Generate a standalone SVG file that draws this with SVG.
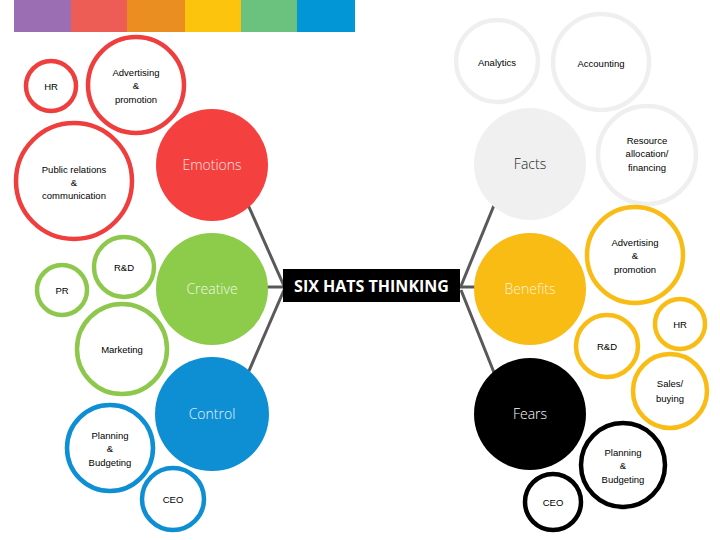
<svg xmlns="http://www.w3.org/2000/svg" width="720" height="540" viewBox="0 0 720 540">
<style>
.ring{fill:#fff;stroke-width:4.5}
.r{stroke:#EE3E3E}.g{stroke:#8DC84C}.b{stroke:#0F8FD3}.y{stroke:#F8BC15}.k{stroke:#000}.l{stroke:#EFEFEF}
.sm{font-family:"Liberation Sans",Arial,sans-serif;font-size:9.5px;fill:#000;text-anchor:middle}
.hat{font-family:"Open Sans","Liberation Sans",sans-serif;font-size:14px;text-anchor:middle;font-weight:300}
.conn line{stroke:#595959;stroke-width:3}
</style>
<rect width="720" height="540" fill="#fff"/>
<g id="colorbar">
<rect x="14" y="0" width="57" height="32" fill="#9B6DB3"/>
<rect x="71" y="0" width="56" height="32" fill="#EE5D55"/>
<rect x="127" y="0" width="58" height="32" fill="#EA8E22"/>
<rect x="185" y="0" width="56" height="32" fill="#FCC40D"/>
<rect x="241" y="0" width="56" height="32" fill="#6BC17E"/>
<rect x="297" y="0" width="58" height="32" fill="#0396D6"/>
</g>
<g id="connectors" class="conn">
<line x1="245" y1="198" x2="284" y2="286"/>
<line x1="284" y1="290" x2="245" y2="380"/>
<line x1="262" y1="287" x2="284" y2="287"/>
<line x1="497" y1="198" x2="461" y2="286"/>
<line x1="461" y1="290" x2="497" y2="380"/>
<line x1="460" y1="287" x2="480" y2="287"/>
</g>
<g id="hr-left"><circle class="ring r" cx="51" cy="86" r="25"/><text class="sm" x="51" y="90">HR</text></g>
<g id="adv-left"><circle class="ring r" cx="136" cy="85" r="48"/><text class="sm" x="136" y="76">Advertising</text><text class="sm" x="136" y="89">&amp;</text><text class="sm" x="136" y="103">promotion</text></g>
<g id="pr-comm"><circle class="ring r" cx="74" cy="181" r="58"/><text class="sm" x="74" y="173">Public relations</text><text class="sm" x="74" y="186">&amp;</text><text class="sm" x="74" y="199">communication</text></g>
<g id="emotions"><circle cx="212" cy="165" r="56" fill="#F4403F"/><text class="hat" x="212" y="170" fill="#FCE4E4">Emotions</text></g>
<g id="rd-left"><circle class="ring g" cx="124" cy="267" r="30"/><text class="sm" x="124" y="271">R&amp;D</text></g>
<g id="pr"><circle class="ring g" cx="62" cy="290" r="25"/><text class="sm" x="62" y="294">PR</text></g>
<g id="creative"><circle cx="212" cy="289" r="56" fill="#8DCB4B"/><text class="hat" x="212" y="294" fill="#F1F8E6">Creative</text></g>
<g id="marketing"><circle class="ring g" cx="122" cy="349" r="45"/><text class="sm" x="122" y="353">Marketing</text></g>
<g id="control"><circle cx="212" cy="414" r="57" fill="#0E8FD4"/><text class="hat" x="212" y="419" fill="#E4F3FC">Control</text></g>
<g id="plan-left"><circle class="ring b" cx="110" cy="448" r="43"/><text class="sm" x="110" y="439">Planning</text><text class="sm" x="110" y="452">&amp;</text><text class="sm" x="110" y="466">Budgeting</text></g>
<g id="ceo-left"><circle class="ring b" cx="173" cy="499" r="31"/><text class="sm" x="173" y="503">CEO</text></g>
<g id="center"><rect x="283" y="269" width="177" height="33" fill="#000"/><text x="371.5" y="291.5" font-family="'Open Sans','Liberation Sans',sans-serif" font-size="16" font-weight="bold" fill="#fff" text-anchor="middle">SIX HATS THINKING</text></g>
<g id="analytics"><circle class="ring l" cx="497" cy="61" r="41"/><text class="sm" x="497" y="66">Analytics</text></g>
<g id="accounting"><circle class="ring l" cx="601" cy="62" r="48"/><text class="sm" x="601" y="67">Accounting</text></g>
<g id="facts"><circle cx="530" cy="164" r="56" fill="#F0F0F0"/><text class="hat" x="530" y="169" fill="#222" font-weight="400">Facts</text></g>
<g id="resource"><circle class="ring l" cx="647" cy="155" r="49"/><text class="sm" x="647" y="144">Resource</text><text class="sm" x="647" y="157">allocation/</text><text class="sm" x="647" y="171">financing</text></g>
<g id="adv-right"><circle class="ring y" cx="635" cy="255" r="48"/><text class="sm" x="635" y="246">Advertising</text><text class="sm" x="635" y="259">&amp;</text><text class="sm" x="635" y="273">promotion</text></g>
<g id="benefits"><circle cx="530" cy="289" r="56" fill="#F8BC15"/><text class="hat" x="530" y="294" fill="#FDF3D6">Benefits</text></g>
<g id="hr-right"><circle class="ring y" cx="680" cy="324" r="25"/><text class="sm" x="680" y="328">HR</text></g>
<g id="rd-right"><circle class="ring y" cx="607" cy="346" r="31"/><text class="sm" x="607" y="350">R&amp;D</text></g>
<g id="sales"><circle class="ring y" cx="670" cy="391" r="37"/><text class="sm" x="670" y="387">Sales/</text><text class="sm" x="670" y="402">buying</text></g>
<g id="fears"><circle cx="530" cy="414" r="56" fill="#000"/><text class="hat" x="530" y="419" fill="#fff">Fears</text></g>
<g id="plan-right"><circle class="ring k" cx="623" cy="465" r="42"/><text class="sm" x="623" y="456">Planning</text><text class="sm" x="623" y="469">&amp;</text><text class="sm" x="623" y="483">Budgeting</text></g>
<g id="ceo-right"><circle class="ring k" cx="553" cy="502" r="28"/><text class="sm" x="553" y="506">CEO</text></g>
</svg>
